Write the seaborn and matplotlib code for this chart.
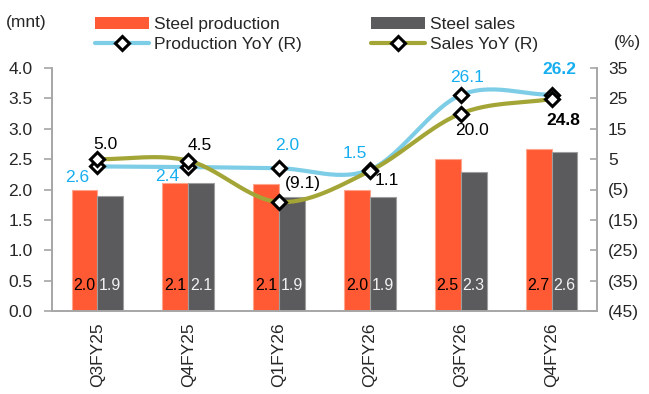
import numpy as np
import pandas as pd
import matplotlib
matplotlib.use("Agg")
import matplotlib.pyplot as plt
from matplotlib import font_manager
from matplotlib.patches import Patch
from matplotlib.lines import Line2D
import seaborn as sns

categories = ["Q3FY25", "Q4FY25", "Q1FY26", "Q2FY26", "Q3FY26", "Q4FY26"]
steel_production = [1.99, 2.10, 2.09, 2.00, 2.51, 2.66]
steel_sales = [1.90, 2.10, 1.88, 1.88, 2.29, 2.62]
production_yoy = [2.6, 2.4, 2.0, 1.5, 26.1, 26.2]
sales_yoy = [5.0, 4.5, -9.1, 1.1, 20.0, 24.8]
left_ticks = [0.0, 0.5, 1.0, 1.5, 2.0, 2.5, 3.0, 3.5, 4.0]
right_ticks = [-45, -35, -25, -15, -5, 5, 15, 25, 35]

C_PROD = "#FF5A33"
C_SALES = "#5B5B5D"
C_PYOY = "#7DCDE6"
C_SYOY = "#A3A536"
C_BLUE_TXT = "#16AEEF"
C_AXIS = "#A6A6A6"

sns.set_theme(style="white")
plt.rcParams["font.family"] = ["Liberation Sans", "DejaVu Sans"]
FS = 12.5

installed = {f.name for f in font_manager.fontManager.ttflist}
NARROW = "Liberation Sans Narrow" if "Liberation Sans Narrow" in installed else "Liberation Sans"
BAR_FS = 12.5 if NARROW == "Liberation Sans Narrow" else 11.5

fig = plt.figure(figsize=(6.49, 3.94), dpi=100)
ax = fig.add_axes([52 / 649, 1 - 311 / 394, (597 - 52) / 649, (311 - 68) / 394])

df = pd.DataFrame({
    "cat": categories * 2,
    "val": steel_production + steel_sales,
    "series": ["Steel production"] * len(categories) + ["Steel sales"] * len(categories),
})
sns.barplot(data=df, x="cat", y="val", hue="series", order=categories,
            hue_order=["Steel production", "Steel sales"],
            palette=[C_PROD, C_SALES], width=0.57, gap=0, ax=ax, legend=False,
            saturation=1, linewidth=0)

# bar edges and labels
for cont, col, ec in zip(ax.containers, ["black", "#F2F2F2"], ["#FFA58E", "#9E9E9E"]):
    for bar in cont:
        bar.set_edgecolor(ec)
        bar.set_linewidth(0.8)
        h = bar.get_height()
        ax.text(bar.get_x() + bar.get_width() / 2, 0.42, f"{h:.1f}",
                ha="center", va="center", fontsize=BAR_FS, color=col, family=NARROW)

ax.set_xlim(-0.5, len(categories) - 0.5)
ax.set_ylim(0, 4.0)
ax.set_yticks(left_ticks)
ax.set_yticklabels([f"{t:.1f}" for t in left_ticks], fontsize=FS)
ax.set_xticks(range(len(categories)))
ax.set_xticklabels(categories, rotation=90, fontsize=FS)
ax.set_xticks(np.arange(-0.5, len(categories), 1.0), minor=True)
ax.tick_params(axis="x", which="major", length=0, pad=8)
ax.tick_params(axis="x", which="minor", length=5, width=1.2, color=C_AXIS, direction="out")
ax.tick_params(axis="y", which="major", length=6, width=1.2, color=C_AXIS, direction="out", pad=8)
ax.set_xlabel("")
ax.set_ylabel("")
for s in ["left", "bottom", "right"]:
    ax.spines[s].set_color(C_AXIS)
    ax.spines[s].set_linewidth(1.2)
ax.spines["top"].set_visible(False)

ax2 = ax.twinx()
ax2.set_ylim(-45, 35)
ax2.set_yticks(right_ticks)
ax2.set_yticklabels([f"({abs(t)})" if t < 0 else f"{t}" for t in right_ticks], fontsize=FS)
ax2.tick_params(axis="y", length=5, width=1.2, color=C_AXIS, direction="in", pad=8)
for s in ["left", "bottom", "right"]:
    ax2.spines[s].set_color(C_AXIS)
    ax2.spines[s].set_linewidth(1.2)
ax2.spines["top"].set_visible(False)


def smooth(y, n=30):
    x = np.arange(len(y), dtype=float)
    y = np.asarray(y, dtype=float)
    px = np.concatenate([[2 * x[0] - x[1]], x, [2 * x[-1] - x[-2]]])
    py = np.concatenate([[2 * y[0] - y[1]], y, [2 * y[-1] - y[-2]]])
    xs, ys = [], []
    for i in range(1, len(px) - 2):
        t = np.linspace(0, 1, n, endpoint=(i == len(px) - 3))
        for P, out in ((px, xs), (py, ys)):
            p0, p1, p2, p3 = P[i - 1], P[i], P[i + 1], P[i + 2]
            out.extend(0.5 * ((2 * p1) + (-p0 + p2) * t + (2 * p0 - 5 * p1 + 4 * p2 - p3) * t ** 2
                              + (-p0 + 3 * p1 - 3 * p2 + p3) * t ** 3))
    return np.array(xs), np.array(ys)


xs, ys = smooth(production_yoy)
sns.lineplot(x=xs, y=ys, ax=ax2, color=C_PYOY, linewidth=3, sort=False, estimator=None)
xs, ys = smooth(sales_yoy)
sns.lineplot(x=xs, y=ys, ax=ax2, color=C_SYOY, linewidth=3, sort=False, estimator=None)

xpos = np.arange(len(categories))
for vals in (production_yoy, sales_yoy):
    ax2.plot(xpos, vals, linestyle="none", marker="D", markersize=7.5,
             markerfacecolor="white", markeredgecolor="black", markeredgewidth=2.2, zorder=5)

# line labels
p_off = [(-20, -11), (-21, -9), (8, 23), (-15, 16), (6, 18), (8, 25)]
s_off = [(8, 15), (11, 15), (24, 18), (17, -10), (11, -17), (12, -22)]
for i, v in enumerate(production_yoy):
    txt = f"({abs(v):.1f})" if v < 0 else f"{v:.1f}"
    ax2.annotate(txt, (i, v), xytext=p_off[i], textcoords="offset pixels",
                 ha="center", va="center", fontsize=FS, color=C_BLUE_TXT,
                 fontweight="bold" if i == len(production_yoy) - 1 else "normal", zorder=6)
for i, v in enumerate(sales_yoy):
    txt = f"({abs(v):.1f})" if v < 0 else f"{v:.1f}"
    ax2.annotate(txt, (i, v), xytext=s_off[i], textcoords="offset pixels",
                 ha="center", va="center", fontsize=FS, color="black",
                 fontweight="bold" if i == len(sales_yoy) - 1 else "normal", zorder=6)

handles = [
    Patch(facecolor=C_PROD, edgecolor="none"),
    Line2D([0], [0], color=C_PYOY, linewidth=3, marker="D", markersize=7,
           markerfacecolor="white", markeredgecolor="black", markeredgewidth=2.2),
    Patch(facecolor=C_SALES, edgecolor="none"),
    Line2D([0], [0], color=C_SYOY, linewidth=3, marker="D", markersize=7,
           markerfacecolor="white", markeredgecolor="black", markeredgewidth=2.2),
]
labels = ["Steel production", "Production YoY (R)", "Steel sales", "Sales YoY (R)"]
fig.legend(handles, labels, ncol=2, loc="upper left", bbox_to_anchor=(88 / 649, 1 - 10 / 394),
           frameon=False, fontsize=FS, handlelength=3.1, handleheight=0.7,
           handletextpad=0.3, columnspacing=4.0, labelspacing=0.25, borderaxespad=0)

fig.text(6 / 649, 1 - 22 / 394, "(mnt)", fontsize=FS, ha="left", va="center")
fig.text(614 / 649, 1 - 42 / 394, "(%)", fontsize=FS, ha="left", va="center")

fig.savefig("out.png", dpi=100)
